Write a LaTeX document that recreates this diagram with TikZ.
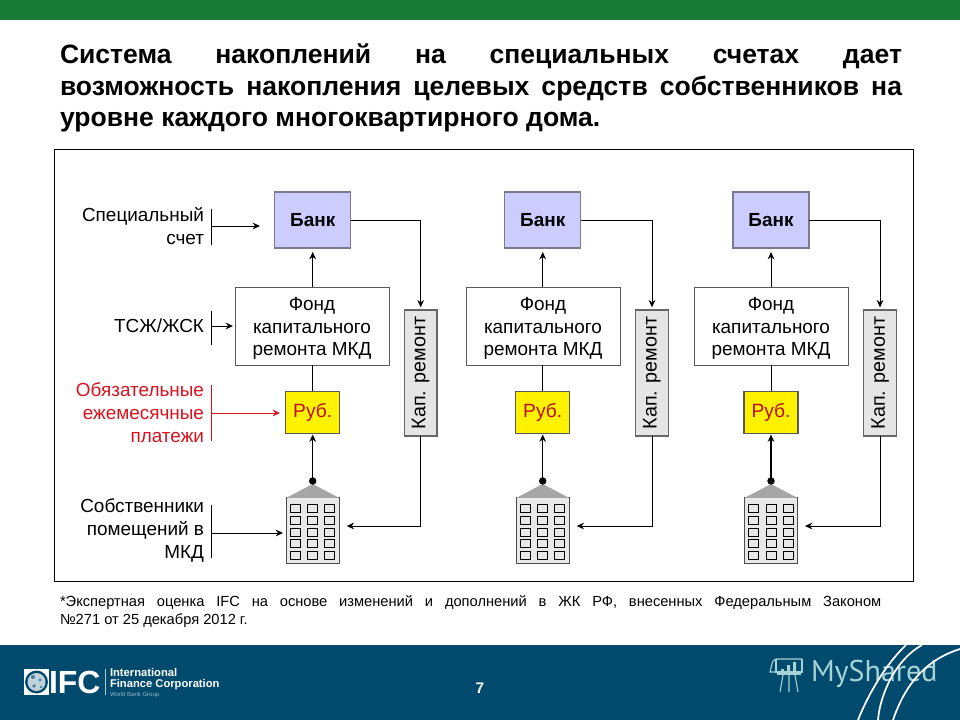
\documentclass[tikz,border=0pt]{standalone}
\usepackage{fontspec}
\setmainfont{Liberation Sans}
\newfontfamily\mysharedfont{PT Sans}
\usetikzlibrary{arrows.meta,shapes.geometric}
\definecolor{topgreen}{HTML}{187A35}
\definecolor{footblue}{HTML}{004A6E}
\definecolor{bankfill}{HTML}{CCCCFF}
\definecolor{bankedge}{HTML}{7A7A8C}
\definecolor{redtxt}{HTML}{D8121E}
\definecolor{msh}{HTML}{A6D3D6}
\tikzset{
  x=0.75pt,y=-0.75pt,
  every node/.style={inner sep=0pt,outer sep=0pt},
  tip/.style={-{Stealth[length=5.5pt,width=5pt]},line width=0.7pt},
  plain/.style={line width=0.7pt},
  bankbox/.style={draw=bankedge,fill=bankfill,line width=0.9pt,minimum width=57pt,minimum height=42pt,font=\fontsize{14.2}{16}\selectfont\bfseries},
  fundbox/.style={draw=black!65,fill=white,line width=0.7pt,minimum width=115.5pt,minimum height=58.5pt,align=center,font=\fontsize{14.2}{17.2}\selectfont},
  rubbox/.style={draw=black!65,fill=yellow,line width=0.8pt,minimum width=40.5pt,minimum height=32pt,text=redtxt!85!black,font=\fontsize{14.4}{16}\selectfont},
  kapbox/.style={draw=black!60,fill=black!10,line width=1pt,minimum width=94.5pt,minimum height=24.5pt,rotate=90,font=\fontsize{14.8}{16}\selectfont},
  sidelabel/.style={anchor=east,align=right,font=\fontsize{14.2}{17.2}\selectfont},
  bodybox/.style={draw=black!70,fill=black!9,line width=0.7pt,minimum width=39.5pt,minimum height=49pt},
  windowbox/.style={draw=black,fill=none,line width=0.6pt,minimum width=7.5pt,minimum height=6pt},
  roofshape/.style={fill=black!35,draw=none},
  dotmark/.style={circle,fill=black,minimum size=5.6pt},
  bar/.style={line width=0.7pt},
  frame/.style={draw=black,line width=0.7pt,fill=white}
}
\begin{document}
\begin{tikzpicture}
\useasboundingbox (0,0) rectangle (960,720);
\fill[white] (0,0) rectangle (960,720);
\fill[topgreen] (0,0) rectangle (960,20);
\fill[footblue] (0,645) rectangle (960,720);

% title
\node[anchor=north west,text width=631.5pt,align=justify,font=\fontsize{19.9}{23.7}\selectfont\bfseries] (title) at (60,44)
 {Система накоплений на специальных счетах дает\linebreak возможность накопления целевых средств собственников на\linebreak уровне каждого многоквартирного дома.};

% frame
\node[frame,anchor=north west,minimum width=644.5pt,minimum height=324pt] (panel) at (54,149) {};

% side labels
\node[sidelabel] (l1) at (204,226) {Специальный\\счет};
\node[sidelabel] (l2) at (204,326) {ТСЖ/ЖСК};
\node[sidelabel,text=redtxt] (l3) at (204,413) {Обязательные\\ежемесячные\\платежи};
\node[sidelabel] (l4) at (204,530.5) {Собственники\\помещений в\\МКД};

\coordinate (b3) at (211,413);
\coordinate (b4) at (211,533);
\draw[bar] (211,209) -- (211,245);
\draw[bar] (211,311) -- (211,345);
\draw[bar,redtxt] (211,385) -- (211,441);
\draw[bar] (211,505) -- (211,558);

\foreach \n/\bx/\fx/\kx in {1/312.7/312/420.7,2/542.7/543/652,3/771/771/880}{
  \node[bankbox] (bank\n) at (\bx,220) {Банк};
  \node[fundbox] (fund\n) at (\fx,326) {\rule{0pt}{13.5pt}Фонд\\капитального\\ремонта МКД};
  \node[rubbox]  (rub\n)  at (\bx,412.5) {Руб.};
  \node[kapbox]  (kap\n)  at (\kx,373) {Кап. ремонт};
  % building
  \node[bodybox] (house\n) at (\bx,530.5) {};
  \fill[roofshape] (house\n.north west) -- (\bx,484) -- (house\n.north east) -- cycle;
  \foreach \wy in {0,1,2,3,4}{
    \foreach \wx in {-17.5,0,17}{
      \node[windowbox] at ({\bx+\wx},{508.3+\wy*11.85}) {};
    }
  }
  \node[dotmark] (dot\n) at (\bx,481) {};
  \coordinate (rr\n) at ({\bx+34},526);
  % connectors
  \draw[tip] (bank\n |- fund\n.north) -- ([yshift=-3pt]bank\n.south);
  \draw[plain] (rub\n |- fund\n.south) -- (rub\n.north);
  \draw[tip,line width=1pt] (dot\n.center) -- ([yshift=-0.5pt]rub\n.south);
  \draw[tip] (bank\n.east) -| ([yshift=2pt]kap\n.east);
  \draw[tip] (kap\n.west) |- (rr\n);
}
% side arrows
\coordinate (t1) at (260,226);
\coordinate (t2) at (233,326);
\coordinate (t3) at (280,413);
\coordinate (t4) at (283,533);
\draw[tip] (211,226) -- (t1);
\draw[tip] (211,326) -- (t2);
\draw[tip,redtxt] (b3) -- (t3);
\draw[tip] (b4) -- (t4);

% footnote
\node[anchor=north west,text width=616pt,align=justify,font=\fontsize{11}{13.5}\selectfont] (note) at (60,596)
 {*Экспертная оценка IFC на основе изменений и дополнений в ЖК РФ, внесенных Федеральным Законом\linebreak №271 от 25 декабря 2012 г.};

% page number
\node[font=\fontsize{11.5}{12}\selectfont\bfseries,text=white] (page) at (480,688) {7};

% IFC logo
\fill[white] (24,669) rectangle (49,695);
\fill[footblue] (36.5,682) circle[radius=11.5];
\fill[white!75!footblue] (36.5,682) circle[radius=9];
\fill[footblue!70] (33,677) circle[radius=2] (40,680) circle[radius=1.6] (34,686) circle[radius=1.8] (41,687) circle[radius=1.4];
\node[font=\fontsize{24}{24}\selectfont\bfseries,text=white,anchor=west] (ifc) at (49,682.5) {IFC};
\draw[white!70!footblue,line width=0.5pt] (105,669) -- (105,695);
\node[font=\fontsize{8.4}{8.2}\selectfont\bfseries,text=white,anchor=north west,align=left] (ifcname) at (110,668) {International\\Finance Corporation};
\node[font=\fontsize{4.5}{5}\selectfont,text=white!60!footblue,anchor=west] (wbg) at (110,695) {World Bank Group};

% MyShared mark
\begin{scope}[draw=msh,line width=0.8pt]
  \draw (776,659) -- (802,659) (776,659) .. controls (772,660) and (772,664) .. (770,672) -- (776,672);
  \draw (776,659) -- (776,672) -- (802,672) -- (802,659);
  \draw (777,674) -- (801,674);
  \draw (783,675) -- (780,692) (789,675) -- (789,692) (795,675) -- (798,692);
\end{scope}
\fill[msh] (781,669) rectangle (784,671.5) (787,665) rectangle (790,671.5) (793,662) rectangle (796,671.5);
\node[font=\mysharedfont\fontsize{22.5}{24}\selectfont,text=msh,anchor=west] (ms) at (811,674) {MyShared};
\draw[white,line width=1.3pt] (858,720) .. controls (868,695) and (885,665) .. (906,645);
\draw[white,line width=1.3pt] (878,720) .. controls (880,695) and (895,660) .. (922,645);
\draw[white,line width=1.3pt] (893,720) .. controls (905,685) and (925,660) .. (960,649);
\end{tikzpicture}
\end{document}
